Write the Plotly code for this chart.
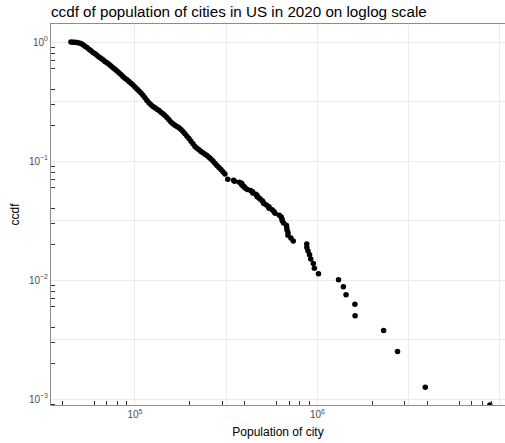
import plotly.graph_objects as go

# US cities in 2020: population and complementary CDF (share of cities larger).
# Dense low end of the distribution, smallest cities first.
population = [
    44600, 45700, 46900, 48100, 49300, 50600, 51900, 53200, 54600, 56000,
    57400, 58900, 60400, 61900, 63500, 65100, 66800, 68500, 70200, 72000,
    73900, 75800, 77700, 79700, 81700, 83800, 85900, 88100, 90400, 92700,
    95100, 97500, 100000, 102600, 105200, 107900, 110600, 113400, 116300, 119300,
    122400, 125500, 128700, 132000, 135400, 138800, 142400, 146000, 149700, 153600,
    157500, 161500, 165600, 169900, 174200, 178700, 183200, 187900, 192700, 197600,
    202700, 207900, 213200, 218600, 224200, 230000, 235800, 241900, 248000, 254400,
    260900, 267500, 274400, 281400, 288600, 296000, 303500, 311300,
    # individual large cities (Lexington ... Los Angeles, New York)
    322570, 346824, 350964, 372624, 383997, 384959, 386261, 394266, 397532, 403455,
    413066, 429954, 440646, 442241, 459470, 466742, 467665, 478961, 486051, 498715,
    504258, 508090, 524943, 542107, 542629, 564559, 577222, 585708, 617638, 633104,
    639111, 641903, 652503, 675647, 678815, 681054, 689447, 689545, 715522, 737015,
    873965, 874579, 887642, 905748, 918915, 949611, 961855, 1013240, 1304379, 1386932,
    1434625, 1603797, 1608139, 2304580, 2746388, 3898747, 8804190,
]
ccdf = [
    0.9987, 0.9971, 0.9942, 0.9904, 0.9827, 0.9714, 0.9473, 0.9220, 0.8990, 0.8700,
    0.8434, 0.8161, 0.7959, 0.7731, 0.7480, 0.7294, 0.7086, 0.6857, 0.6686, 0.6495,
    0.6285, 0.6082, 0.5896, 0.5706, 0.5521, 0.5332, 0.5130, 0.4963, 0.4812, 0.4656,
    0.4506, 0.4352, 0.4185, 0.4027, 0.3875, 0.3728, 0.3565, 0.3397, 0.3225, 0.3083,
    0.2966, 0.2871, 0.2799, 0.2724, 0.2658, 0.2571, 0.2493, 0.2412, 0.2320, 0.2224,
    0.2127, 0.2058, 0.1999, 0.1950, 0.1901, 0.1839, 0.1770, 0.1693, 0.1616, 0.1546,
    0.1467, 0.1395, 0.1323, 0.1281, 0.1242, 0.1202, 0.1172, 0.1141, 0.1112, 0.1076,
    0.1039, 0.1000, 0.0956, 0.0917, 0.0882, 0.0848, 0.0813, 0.0778,
    0.070175, 0.068922, 0.067669, 0.066416, 0.065163, 0.063910, 0.062657, 0.061404, 0.060150, 0.058897,
    0.057644, 0.056391, 0.055138, 0.053885, 0.052632, 0.051378, 0.050125, 0.048872, 0.047619, 0.046366,
    0.045113, 0.043860, 0.042607, 0.041353, 0.040100, 0.038847, 0.037594, 0.036341, 0.035088, 0.033835,
    0.032581, 0.031328, 0.030075, 0.028822, 0.027569, 0.026316, 0.025063, 0.023810, 0.022556, 0.021303,
    0.020050, 0.018797, 0.017544, 0.016291, 0.015038, 0.013784, 0.012531, 0.011278, 0.010025, 0.008772,
    0.007519, 0.006266, 0.005013, 0.003759, 0.002506, 0.001253, 0.0,
]

x_labels = ["10<sup>5</sup>", "10<sup>6</sup>", "10<sup>7</sup>"]
y_labels = ["10<sup>0</sup>", "10<sup>\u22121</sup>", "10<sup>\u22122</sup>", "10<sup>\u22123</sup>"]

FONT = "Liberation Sans, Arial, sans-serif"
X_RANGE = [4.54, 7.0277]     # log10 units
Y_RANGE = [-3.0504, 0.1513]  # log10 units

# a ccdf of 0 has no place on a log axis: pin it to the lower panel edge
y_floor = 10 ** Y_RANGE[0]
y_plot = [v if v > 0 else y_floor for v in ccdf]

# log tick positions: long at decades, medium at 5s, short at the other digits
x_dec = [4, 5, 6, 7]
y_dec = [-4, -3, -2, -1, 0]
def long_ticks(decs):
    return [10.0 ** d for d in decs]
def mid_ticks(decs):
    return [5 * 10.0 ** d for d in decs]
def short_ticks(decs):
    return [m * 10.0 ** d for d in decs for m in (2, 3, 4, 6, 7, 8, 9)]

x_grid = [10 ** 5, 10 ** 5.5, 10 ** 6, 10 ** 6.5, 10 ** 7]
x_grid_text = [x_labels[0], " ", x_labels[1], " ", x_labels[2]]
y_grid = [10 ** 0, 10 ** -0.5, 10 ** -1, 10 ** -1.5, 10 ** -2, 10 ** -2.5, 10 ** -3]
y_grid_text = [y_labels[0], " ", y_labels[1], " ", y_labels[2], " ", y_labels[3]]

TICK_COLOR = "#333333"
AXIS_COLOR = "#8C8C8C"
GRID_COLOR = "#EBEBEB"
tick_font = dict(family=FONT, size=10, color="#4D4D4D")
title_font = dict(family=FONT, size=12, color="black")

W, H = 505, 443
fig = go.Figure()
fig.add_trace(go.Scatter(
    x=population, y=y_plot, mode="markers",
    marker=dict(color="black", size=5.5, line=dict(width=0)),
    hoverinfo="x+y",
))

fig.update_layout(
    width=W, height=H,
    margin=dict(l=51, r=0, t=24, b=38),
    plot_bgcolor="white", paper_bgcolor="white",
    showlegend=False,
    title=dict(
        text="ccdf of population of cities in US in 2020 on loglog scale",
        xref="container", x=51 / W, xanchor="left",
        yref="container", y=1 - 12 / H, yanchor="middle",
        pad=dict(l=0, r=0, t=0, b=0),
        font=dict(family=FONT, size=15.2, color="black"),
    ),
    xaxis=dict(
        type="log", range=X_RANGE,
        tickmode="array", tickvals=x_grid, ticktext=x_grid_text, ticks="",
        tickfont=tick_font,
        showgrid=True, gridcolor=GRID_COLOR, gridwidth=1,
        showline=True, linecolor=AXIS_COLOR, linewidth=1, mirror=True,
        zeroline=False,
        title=dict(text="Population of city", font=title_font, standoff=8),
        minor=dict(tickmode="array", tickvals=short_ticks(x_dec), ticks="inside",
                   ticklen=4, tickwidth=1, tickcolor=TICK_COLOR, showgrid=False),
    ),
    xaxis2=dict(
        type="log", range=X_RANGE, overlaying="x", anchor="y", side="bottom",
        tickmode="array", tickvals=long_ticks(x_dec), ticks="inside",
        ticklen=11, tickwidth=1, tickcolor=TICK_COLOR,
        showticklabels=False, showgrid=False, showline=False, zeroline=False,
        minor=dict(tickmode="array", tickvals=mid_ticks(x_dec), ticks="inside",
                   ticklen=7, tickwidth=1, tickcolor=TICK_COLOR, showgrid=False),
    ),
    yaxis=dict(
        type="log", range=Y_RANGE,
        tickmode="array", tickvals=y_grid, ticktext=y_grid_text, ticks="",
        tickfont=tick_font,
        showgrid=True, gridcolor=GRID_COLOR, gridwidth=1,
        showline=True, linecolor=AXIS_COLOR, linewidth=1, mirror=False,
        zeroline=False,
        title=dict(text="ccdf", font=title_font, standoff=6),
        minor=dict(tickmode="array", tickvals=short_ticks(y_dec), ticks="inside",
                   ticklen=4, tickwidth=1, tickcolor=TICK_COLOR, showgrid=False),
    ),
    yaxis2=dict(
        type="log", range=Y_RANGE, overlaying="y", anchor="x", side="left",
        tickmode="array", tickvals=long_ticks(y_dec), ticks="inside",
        ticklen=11, tickwidth=1, tickcolor=TICK_COLOR,
        showticklabels=False, showgrid=False, showline=False, zeroline=False,
        minor=dict(tickmode="array", tickvals=mid_ticks(y_dec), ticks="inside",
                   ticklen=7, tickwidth=1, tickcolor=TICK_COLOR, showgrid=False),
    ),
)

fig.write_html("out.html")
